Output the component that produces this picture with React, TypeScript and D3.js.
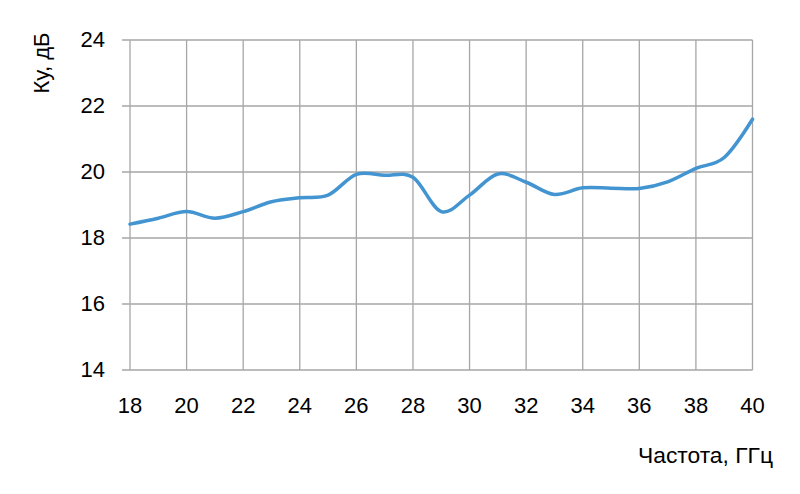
import React from "react";
import * as d3 from "d3";

const freqs = [18, 19, 20, 21, 22, 23, 24, 25, 26, 27, 28, 29, 30, 31, 32, 33, 34, 35, 36, 37, 38, 39, 40];
const gain = [18.42, 18.6, 18.8, 18.6, 18.8, 19.1, 19.22, 19.3, 19.93, 19.9, 19.84, 18.8, 19.3, 19.94, 19.69, 19.32, 19.52, 19.51, 19.5, 19.7, 20.11, 20.44, 21.6];
const xTicks = [18, 20, 22, 24, 26, 28, 30, 32, 34, 36, 38, 40];
const yTicks = [14, 16, 18, 20, 22, 24];
const xTitle = "Частота, ГГц";
const yTitle = "Ку, дБ";

const W = 800, H = 494;
const left = 130, right = 752.5, top = 40, bottom = 370;
const FONT = "'Liberation Sans', Arial, sans-serif";
const FS = 22;

export default function App() {
  const x = d3.scaleLinear().domain([18, 40]).range([left, right]);
  const y = d3.scaleLinear().domain([14, 24]).range([bottom, top]);
  const line = d3.line<number>()
    .x((_, i) => x(freqs[i]))
    .y((d) => y(d))
    .curve(d3.curveCardinal.tension(0));
  return (
    <svg width={W} height={H} style={{ position: "absolute", left: 0, top: 0, background: "#fff" }}>
      <rect width={W} height={H} fill="#fff" />
      {xTicks.map((t) => (
        <line key={"vx" + t} x1={x(t)} x2={x(t)} y1={top} y2={bottom} stroke="#a6a6a6" strokeWidth={1.3} />
      ))}
      {yTicks.map((t) => (
        <line key={"hy" + t} x1={left - 8} x2={right} y1={y(t)} y2={y(t)} stroke="#a6a6a6" strokeWidth={1.3} />
      ))}
      <path d={line(gain) || ""} fill="none" stroke="#4395d1" strokeWidth={3.5} strokeLinecap="round" strokeLinejoin="round" />
      {yTicks.map((t) => (
        <text key={"ly" + t} x={105} y={y(t) + 7} textAnchor="end" fontFamily={FONT} fontSize={FS} fill="#000">{t}</text>
      ))}
      {xTicks.map((t) => (
        <text key={"lx" + t} x={x(t)} y={413} textAnchor="middle" fontFamily={FONT} fontSize={FS} fill="#000">{t}</text>
      ))}
      <text x={773} y={463} textAnchor="end" fontFamily={FONT} fontSize={FS} fill="#000" textLength={135} lengthAdjust="spacingAndGlyphs">{xTitle}</text>
      <text transform="translate(49,63) rotate(-90)" textAnchor="middle" fontFamily={FONT} fontSize={FS} fill="#000">{yTitle}</text>
    </svg>
  );
}
